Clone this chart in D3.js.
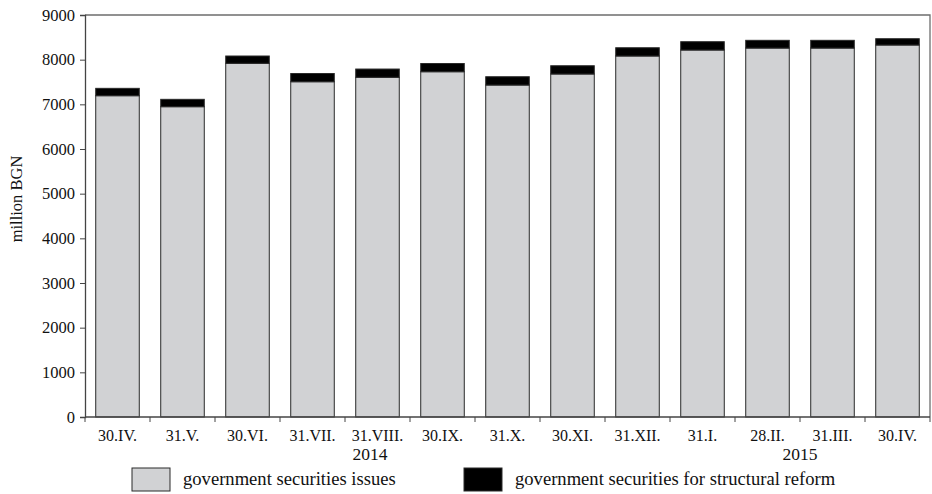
<!DOCTYPE html>
<html>
<head>
<meta charset="utf-8">
<script src="https://cdn.jsdelivr.net/npm/d3@7"></script>
<style>
  html, body { margin: 0; padding: 0; background: #fff; }
  svg { display: block; }
  text { font-family: "Liberation Serif", "Times New Roman", serif; fill: #111; }
</style>
</head>
<body>
<svg id="chart" width="932" height="494"></svg>
<script>
const categories = ["30.IV.", "31.V.", "30.VI.", "31.VII.", "31.VIII.", "30.IX.", "31.X.", "30.XI.", "31.XII.", "31.I.", "28.II.", "31.III.", "30.IV."];
const issues = [7193, 6947, 7918, 7506, 7605, 7730, 7432, 7679, 8082, 8216, 8260, 8260, 8328];
const structural = [165, 165, 164, 184, 185, 184, 186, 185, 185, 186, 173, 173, 141];
const yTicks = [0, 1000, 2000, 3000, 4000, 5000, 6000, 7000, 8000, 9000];
const years = [{ label: "2014", at: 4.385 }, { label: "2015", at: 11 }];
const seriesNames = ["government securities issues", "government securities for structural reform"];
const colors = ["#d1d2d4", "#000000"];

const svg = d3.select("#chart");
const mLeft = 85, mRight = 930, mTop = 15, mBottom = 417;

const x = d3.scaleBand().domain(d3.range(categories.length)).range([mLeft, mRight]).paddingInner(0.33).paddingOuter(0.165);
const y = d3.scaleLinear().domain([0, 9000]).range([mBottom, mTop]);

const data = categories.map((c, i) => ({ i, c, a: issues[i], b: structural[i] }));
const stack = d3.stack().keys(["a", "b"])(data);

// frame (top & right)
svg.append("path")
  .attr("d", `M${mLeft},${mTop}H${mRight}V${mBottom}`)
  .attr("fill", "none").attr("stroke", "#6e6e6e").attr("stroke-width", 1.3);

// bars
stack.forEach((layer, k) => {
  svg.append("g").selectAll("rect").data(layer).join("rect")
    .attr("x", d => x(d.data.i))
    .attr("width", x.bandwidth())
    .attr("y", d => y(d[1]))
    .attr("height", d => y(d[0]) - y(d[1]))
    .attr("fill", colors[k])
    .attr("stroke", "#2a2a2a").attr("stroke-width", 1);
});

// y axis
const yAxis = svg.append("g").attr("transform", `translate(${mLeft},0)`)
  .call(d3.axisLeft(y).tickValues(yTicks).tickFormat(d3.format("d")).tickSize(5).tickPadding(5));
yAxis.select(".domain").attr("stroke", "#444").attr("stroke-width", 1.3);
yAxis.selectAll(".tick line").attr("stroke", "#444");
yAxis.selectAll("text").attr("font-size", 16.5).attr("font-family", "Liberation Serif").attr("fill", "#111");

// x axis: ticks at category boundaries, labels centered
const step = x.step();
const xg = svg.append("g");
xg.append("line").attr("x1", mLeft).attr("x2", mRight).attr("y1", mBottom).attr("y2", mBottom)
  .attr("stroke", "#444").attr("stroke-width", 1.3);
xg.selectAll("line.tk").data(d3.range(categories.length + 1)).join("line").attr("class", "tk")
  .attr("x1", i => mLeft + i * step).attr("x2", i => mLeft + i * step)
  .attr("y1", mBottom).attr("y2", mBottom + 5).attr("stroke", "#444");
xg.selectAll("text.cat").data(data).join("text").attr("class", "cat")
  .attr("x", d => x(d.i) + x.bandwidth() / 2)
  .attr("y", 441)
  .attr("text-anchor", "middle")
  .attr("font-size", 16)
  .text(d => d.c);
xg.selectAll("text.yr").data(years).join("text").attr("class", "yr")
  .attr("x", d => mLeft + d.at * step)
  .attr("y", 460)
  .attr("text-anchor", "middle")
  .attr("font-size", 17.5)
  .text(d => d.label);

// y label
svg.append("text")
  .attr("transform", "translate(22,199) rotate(-90)")
  .attr("text-anchor", "middle")
  .attr("font-size", 16.5)
  .text("million BGN");

// legend
const legendX = [132, 464];
seriesNames.forEach((n, k) => {
  svg.append("rect").attr("x", legendX[k]).attr("y", 468).attr("width", 38).attr("height", 23)
    .attr("fill", colors[k]).attr("stroke", "#2a2a2a").attr("stroke-width", 1);
  svg.append("text").attr("x", legendX[k] + 51).attr("y", 485).attr("font-size", 18.6).text(n);
});
</script>
</body>
</html>
